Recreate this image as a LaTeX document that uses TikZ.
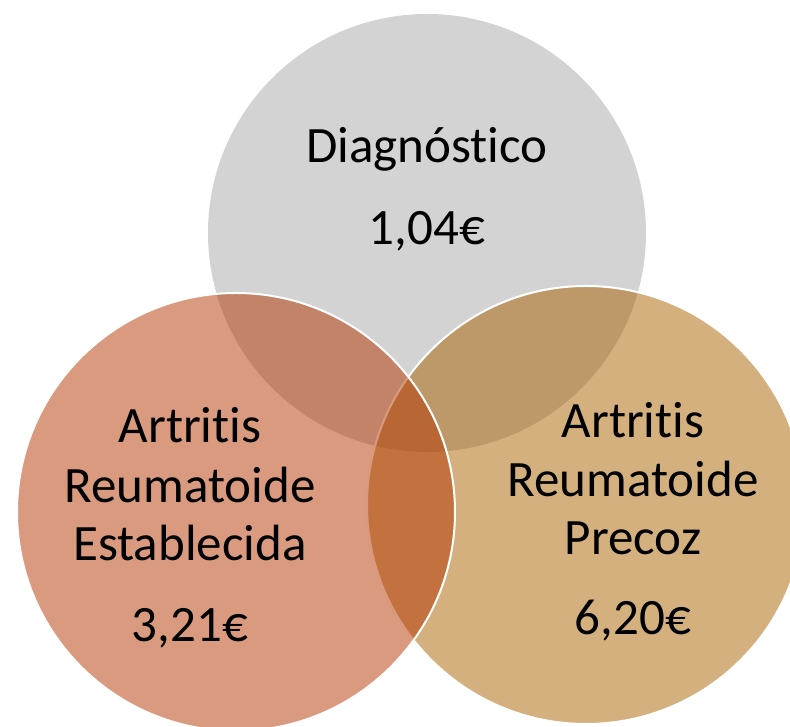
\documentclass[tikz,border=0pt]{standalone}
\usepackage{fontspec}
\setmainfont{Carlito}[Ligatures={NoCommon}]
\usetikzlibrary{positioning}

\definecolor{diaggray}{RGB}{211,211,211}
\definecolor{aresfill}{RGB}{179,53,0}
\definecolor{arpfill}{RGB}{169,97,0}

\tikzset{
  venn/.style = {circle, inner sep = 0pt, minimum size = 438pt},
  lbl/.style = {anchor = base, inner sep = 0pt, font = \fontsize{51}{59}\selectfont}
}

\begin{document}
\begin{tikzpicture}[x = 1pt, y = 1pt]
	\useasboundingbox (0,0) rectangle (790,727);
	% circles
	\node[venn, fill = diaggray] (diag) at (427,494) {};
	\node[venn, fill = arpfill, fill opacity = .5, draw = white, line width = 2pt] (arp) at (586,222) {};
	\node[venn, fill = aresfill, fill opacity = .5, draw = white, line width = 2pt] (ares) at (236,215) {};
	% texts
	\node[lbl] (diagname) at (427,564) {Diagnóstico};
	\node[lbl] (diagcost) at (427,482) {1,04€};
	\node[lbl] (aresone) at (190,284) {Artritis};
	\node[lbl] (arestwo) at (190,224) {Reumatoide};
	\node[lbl] (aresthree) at (190,166) {Establecida};
	\node[lbl] (arescost) at (190,85) {3,21€};
	\node[lbl] (arpone) at (633,289) {Artritis};
	\node[lbl] (arptwo) at (633,230) {Reumatoide};
	\node[lbl] (arpthree) at (633,172) {Precoz};
	\node[lbl] (arpcost) at (633,92) {6,20€};
\end{tikzpicture}
\end{document}
